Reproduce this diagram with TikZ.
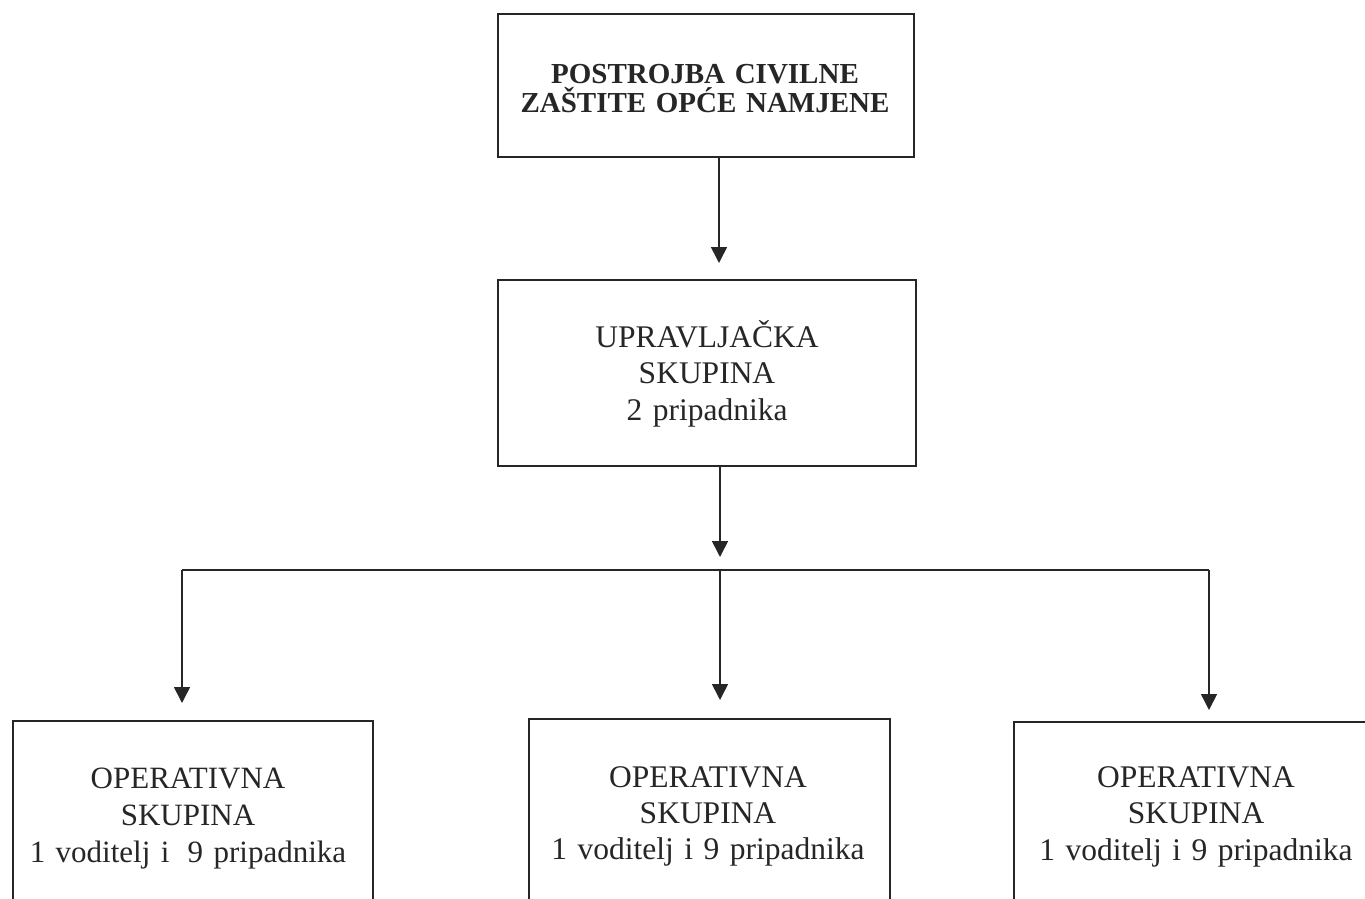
\documentclass[tikz,border=0pt]{standalone}
\usepackage{fontspec}
\setmainfont{Liberation Serif}
\usetikzlibrary{arrows.meta,calc}
\definecolor{ink}{HTML}{262626}
\tikzset{
  box/.style={draw=ink, line width=1.6pt, rectangle, inner sep=0pt, anchor=north west},
  txt/.style={text=ink, align=center, inner sep=0pt, anchor=base, text width=#1},
  txt/.default=400pt,
  arr/.style={draw=ink, line width=1.6pt, -{Triangle[width=16pt,length=16pt]}},
  ln/.style={draw=ink, line width=1.6pt}
}
\begin{document}
\begin{tikzpicture}[x=1pt,y=-1pt]
\useasboundingbox (0,0) rectangle (1365,899);
\fill[white] (0,0) rectangle (1365,899);
\clip (0,0) rectangle (1365,899);
% boxes
\node[box, minimum width=416pt, minimum height=143pt] (top) at (497,13) {};
\node[box, minimum width=418pt, minimum height=186pt] (mid) at (497,279) {};
\node[box, minimum width=360pt, minimum height=260pt] (b1) at (12,720) {};
\node[box, minimum width=361pt, minimum height=260pt] (b2) at (528,718) {};
\node[box, minimum width=366pt, minimum height=260pt] (b3) at (1013,721) {};
% texts
\node[txt, font=\fontsize{29pt}{29pt}\selectfont\bfseries] (ttop) at (705,83) {POSTROJBA CIVILNE\\ZAŠTITE OPĆE NAMJENE};
\node[txt, font=\fontsize{31.5pt}{36.5pt}\selectfont] (tmid) at (707,347) {UPRAVLJAČKA\\SKUPINA\\2 pripadnika};
\node[txt, font=\fontsize{31pt}{37pt}\selectfont] (tb1) at (188,788) {OPERATIVNA\\SKUPINA\\1 voditelj i\hspace{8pt} 9 pripadnika};
\node[txt, font=\fontsize{31.5pt}{36pt}\selectfont] (tb2) at (708,787) {OPERATIVNA\\SKUPINA\\1 voditelj i 9 pripadnika};
\node[txt, font=\fontsize{31.5pt}{36.5pt}\selectfont] (tb3) at (1196,787) {OPERATIVNA\\SKUPINA\\1 voditelj i 9 pripadnika};
% connector coordinates
\coordinate (c1) at (719,0);
\coordinate (c2) at (720,0);
\coordinate (j) at (720,570);
\coordinate (jl) at (182,570);
\coordinate (jr) at (1209,570);
% connectors
\draw[arr, shorten >=16pt] (top.south -| c1) -- (mid.north -| c1);
\draw[arr, shorten >=13pt] (mid.south -| c2) -- (j);
\draw[ln] (jl) -- (jr);
\draw[arr, shorten >=17pt] (jl) -- (b1.north -| jl);
\draw[arr, shorten >=18pt] (j) -- (b2.north -| j);
\draw[arr, shorten >=11pt] (jr) -- (b3.north -| jr);
\end{tikzpicture}
\end{document}
